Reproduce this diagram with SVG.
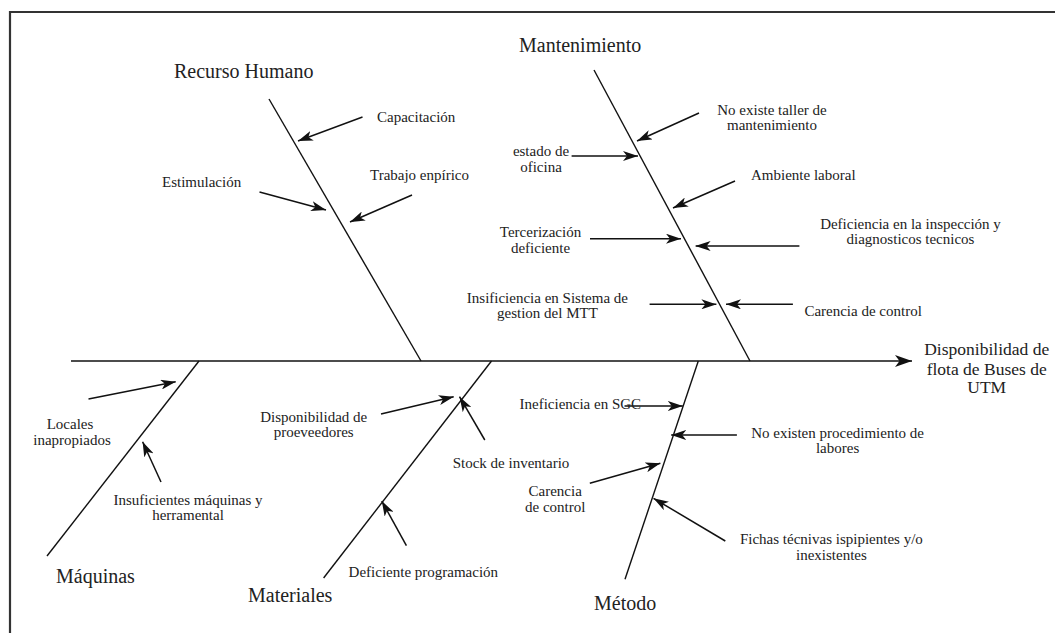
<svg xmlns="http://www.w3.org/2000/svg" width="1055" height="633" viewBox="0 0 1055 633">
<style>
.t{font-family:"Liberation Serif","DejaVu Serif","Noto Serif",serif;fill:#222}
.cat{font-size:20px}
.lbl{font-size:15px}
.eff{font-size:17.5px}
.m{text-anchor:middle}
.bone{stroke:#111;stroke-width:1.4;fill:none}
.arr{stroke:#111;stroke-width:1.5;fill:none;marker-end:url(#ah)}
.frame{stroke:#333;stroke-width:2.2;fill:none}
</style>
<defs>
<marker id="ah" viewBox="0 0 15 10" refX="15" refY="5" markerWidth="15" markerHeight="10" markerUnits="userSpaceOnUse" orient="auto"><path d="M0,0 L15,5 L0,10 L4,5 z" fill="#111"/></marker>
<marker id="ahb" viewBox="0 0 17 12" refX="17" refY="6" markerWidth="17" markerHeight="12" markerUnits="userSpaceOnUse" orient="auto"><path d="M0,0 L17,6 L0,12 L4.5,6 z" fill="#111"/></marker>
</defs>
<rect width="1055" height="633" fill="#fff"/>
<g id="frame"><path class="frame" d="M10,634 L10,12 L1056,12"/></g>
<g id="connectors">
<line class="bone" x1="71" y1="361" x2="912" y2="361" style="marker-end:url(#ahb)"/>
<line class="bone" x1="269" y1="99" x2="421" y2="361"/>
<line class="bone" x1="594" y1="70" x2="750" y2="361"/>
<line class="bone" x1="199" y1="361" x2="47" y2="556"/>
<line class="bone" x1="491.5" y1="361" x2="323.6" y2="578"/>
<line class="bone" x1="698.3" y1="361" x2="625" y2="579.3"/>
<line class="arr" x1="362.5" y1="117" x2="298" y2="141"/>
<line class="arr" x1="259.5" y1="192" x2="326" y2="210"/>
<line class="arr" x1="412" y1="195" x2="350" y2="222"/>
<line class="arr" x1="699" y1="113" x2="637" y2="141"/>
<line class="arr" x1="571.6" y1="156" x2="638" y2="156"/>
<line class="arr" x1="735" y1="181" x2="673" y2="208"/>
<line class="arr" x1="590" y1="238.7" x2="681" y2="238.7"/>
<line class="arr" x1="799.4" y1="246" x2="695.6" y2="246"/>
<line class="arr" x1="649.6" y1="304.3" x2="716.4" y2="304.3"/>
<line class="arr" x1="792.9" y1="304.3" x2="726" y2="304.3"/>
<line class="arr" x1="88.5" y1="399" x2="175.7" y2="381.7"/>
<line class="arr" x1="161" y1="482" x2="142.6" y2="441.7"/>
<line class="arr" x1="381" y1="414" x2="453.7" y2="396.7"/>
<line class="arr" x1="484.8" y1="440" x2="459.5" y2="396.7"/>
<line class="arr" x1="406.4" y1="545.7" x2="381.8" y2="501"/>
<line class="arr" x1="624.5" y1="406" x2="682.8" y2="406"/>
<line class="arr" x1="736.9" y1="435" x2="671.2" y2="435"/>
<line class="arr" x1="589.8" y1="483.3" x2="660.4" y2="463.3"/>
<line class="arr" x1="725.3" y1="541" x2="653.5" y2="498.3"/>
</g>
<g id="effect"><text class="t eff m" x="986.7" y="355">Disponibilidad de</text><text class="t eff m" x="986.7" y="375">flota de Buses de</text><text class="t eff m" x="986.7" y="393">UTM</text></g>
<g id="cat-recurso"><text class="t cat" x="174" y="78">Recurso Humano</text></g>
<g id="cat-mantenimiento"><text class="t cat" x="519" y="52">Mantenimiento</text></g>
<g id="cat-maquinas"><text class="t cat" x="56" y="583">Máquinas</text></g>
<g id="cat-materiales"><text class="t cat" x="248" y="602">Materiales</text></g>
<g id="cat-metodo"><text class="t cat" x="594" y="610">Método</text></g>
<g id="c-capacitacion"><text class="t lbl" x="377" y="122">Capacitación</text></g>
<g id="c-estimulacion"><text class="t lbl" x="162" y="187">Estimulación</text></g>
<g id="c-trabajo"><text class="t lbl" x="370" y="180">Trabajo enpírico</text></g>
<g id="c-taller"><text class="t lbl m" x="772" y="114.5">No existe taller de</text><text class="t lbl m" x="772" y="130">mantenimiento</text></g>
<g id="c-estado"><text class="t lbl m" x="541" y="156.3">estado de</text><text class="t lbl m" x="541" y="171.8">oficina</text></g>
<g id="c-ambiente"><text class="t lbl" x="751" y="180">Ambiente laboral</text></g>
<g id="c-tercerizacion"><text class="t lbl m" x="540.5" y="237">Tercerización</text><text class="t lbl m" x="540.5" y="252.5">deficiente</text></g>
<g id="c-deficiencia"><text class="t lbl m" x="910.5" y="228.6">Deficiencia en la inspección y</text><text class="t lbl m" x="910.5" y="244.1">diagnosticos tecnicos</text></g>
<g id="c-insificiencia"><text class="t lbl m" x="547.4" y="302.8">Insificiencia en Sistema de</text><text class="t lbl m" x="547.4" y="318.3">gestion del MTT</text></g>
<g id="c-carencia1"><text class="t lbl" x="804.4" y="316">Carencia de control</text></g>
<g id="c-locales"><text class="t lbl m" x="70" y="429">Locales</text><text class="t lbl m" x="72" y="444.5">inapropiados</text></g>
<g id="c-insuficientes"><text class="t lbl m" x="188" y="504.6">Insuficientes máquinas y</text><text class="t lbl m" x="188" y="520.1">herramental</text></g>
<g id="c-disponibilidad"><text class="t lbl m" x="313.7" y="421.8">Disponibilidad de</text><text class="t lbl m" x="313.7" y="437.3">proeveedores</text></g>
<g id="c-stock"><text class="t lbl" x="452.7" y="468">Stock de inventario</text></g>
<g id="c-programacion"><text class="t lbl" x="348.6" y="576.7">Deficiente programación</text></g>
<g id="c-sgc"><text class="t lbl" x="519.5" y="409.3">Ineficiencia en SGC</text></g>
<g id="c-procedimiento"><text class="t lbl m" x="837.6" y="437.6">No existen procedimiento de</text><text class="t lbl m" x="837.6" y="453.1">labores</text></g>
<g id="c-carencia2"><text class="t lbl m" x="555.2" y="496.4">Carencia</text><text class="t lbl m" x="555.2" y="511.9">de control</text></g>
<g id="c-fichas"><text class="t lbl m" x="831.4" y="544.3">Fichas técnivas ispipientes y/o</text><text class="t lbl m" x="831.4" y="560">inexistentes</text></g>
</svg>
